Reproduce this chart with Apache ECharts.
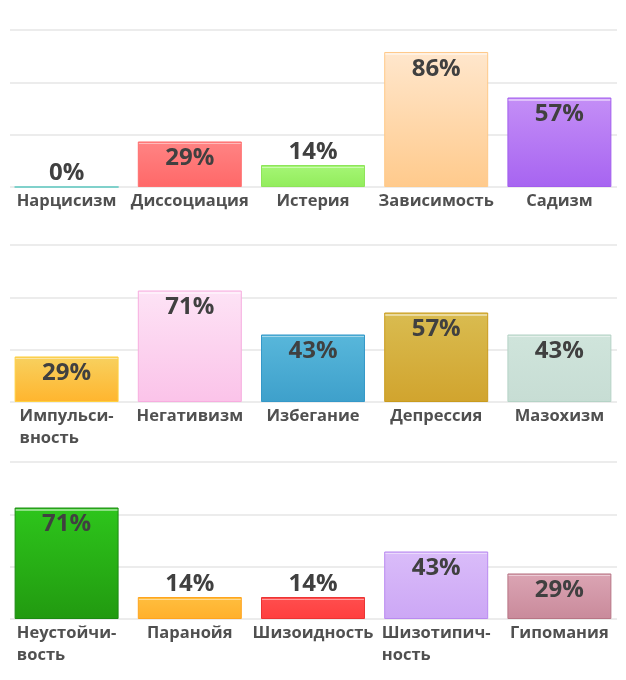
<!DOCTYPE html>
<html>
<head>
<meta charset="utf-8">
<script src="https://cdn.jsdelivr.net/npm/echarts@6/dist/echarts.min.js"></script>
<style>
  html, body { margin: 0; padding: 0; background: #fff; }
  #chart { width: 626px; height: 680px; }
</style>
</head>
<body>
<div id="chart"></div>
<script>
// данные
const categoriesRow1 = ['Нарцисизм', 'Диссоциация', 'Истерия', 'Зависимость', 'Садизм']
const valuesRow1 = [0, 29, 14, 86, 57]
const categoriesRow2 = ['Импульси-\nвность', 'Негативизм', 'Избегание', 'Депрессия', 'Мазохизм']
const valuesRow2 = [29, 71, 43, 57, 43]
const categoriesRow3 = ['Неустойчи-\nвость', 'Паранойя', 'Шизоидность', 'Шизотипич-\nность', 'Гипомания']
const valuesRow3 = [71, 14, 14, 43, 29]
const axisMax = 100

// цвета: верх, низ, рамка
const colorsRow1 = [
    ['#7fdcd6', '#66cfc8', '#5cc8c0'],
    ['#ff8282', '#ff6868', '#ff6e6e'],
    ['#a3f572', '#92ec5c', '#8ee45a'],
    ['#ffe6cb', '#ffca8c', '#ffc988'],
    ['#c38df6', '#a764f1', '#a25ded']
]
const colorsRow2 = [
    ['#f8cf5c', '#ffb52e', '#ffd040'],
    ['#fde2f5', '#fbc3e9', '#f7addf'],
    ['#57b6da', '#3ea0cb', '#3598c8'],
    ['#d9bb4f', '#d1a42e', '#c99b1d'],
    ['#cfe4db', '#c7ddd4', '#b5d3c6']
]
const colorsRow3 = [
    ['#2dc41b', '#229a10', '#1c8a12'],
    ['#ffbc3c', '#ffb02c', '#ffa41e'],
    ['#ff4c4c', '#ff3f3f', '#ea3434'],
    ['#d9bbf9', '#cca7f5', '#b98af0'],
    ['#daa3b2', '#c98a9b', '#b77585']
]

const rowTops = [30, 245, 462]
const rowHeight = 157
const font = 'Open Sans'

const lighten = (hex, k) => {
    const n = parseInt(hex.slice(1), 16)
    const ch = [n >> 16, (n >> 8) & 255, n & 255].map(c => Math.round(c + (255 - c) * k))
    return 'rgb(' + ch.join(',') + ')'
}

const barFill = (value, c) => {
    const h = value / axisMax * rowHeight
    if (h < 4) return c[1]
    const s1 = 1.5 / h, s2 = 3 / h
    return new echarts.graphic.LinearGradient(0, 0, 0, 1, [
        { offset: 0, color: c[0] },
        { offset: s1, color: c[0] },
        { offset: s1, color: lighten(c[0], 0.45) },
        { offset: s2, color: lighten(c[0], 0.45) },
        { offset: s2, color: c[0] },
        { offset: 1, color: c[1] }
    ])
}

const rows = [
    [categoriesRow1, valuesRow1, colorsRow1],
    [categoriesRow2, valuesRow2, colorsRow2],
    [categoriesRow3, valuesRow3, colorsRow3]
]

const grid = [], xAxis = [], yAxis = [], series = []

rows.forEach(([cats, vals, cols], i) => {
    // сетка для линий
    grid.push({ left: 10, right: 9, top: rowTops[i], height: rowHeight })
    // сетка для столбцов
    grid.push({ left: 5, right: 5, top: rowTops[i], height: rowHeight })

    xAxis.push({
        type: 'category', gridIndex: 2 * i, data: cats,
        show: false
    })
    yAxis.push({
        type: 'value', gridIndex: 2 * i, min: 0, max: axisMax, interval: axisMax / 3,
        axisLine: { show: false }, axisTick: { show: false }, axisLabel: { show: false },
        splitLine: { show: true, lineStyle: { color: '#e6e6e6', width: 1.5 } }
    })

    xAxis.push({
        type: 'category', gridIndex: 2 * i + 1, data: cats,
        axisLine: { show: false }, axisTick: { show: false },
        axisLabel: {
            interval: 0, margin: 3,
            formatter: v => v.split('\n').map(s => '{a|' + s + '}').join('\n'),
            rich: {
                a: {
                    fontFamily: font, fontWeight: 'bold', fontSize: 16.5,
                    color: '#505050', lineHeight: 22, align: 'left'
                }
            }
        }
    })
    yAxis.push({
        type: 'value', gridIndex: 2 * i + 1, min: 0, max: axisMax,
        show: false, splitLine: { show: false }
    })

    series.push({
        type: 'bar',
        xAxisIndex: 2 * i + 1,
        yAxisIndex: 2 * i + 1,
        barCategoryGap: '15.6%',
        data: vals.map((v, j) => ({
            value: v,
            itemStyle: { color: barFill(v, cols[j]), borderColor: cols[j][2], borderWidth: 1 },
            label: v >= 20
                ? { position: 'insideTop', distance: 5 }
                : { position: 'top', distance: 1 }
        })),
        label: {
            show: true, formatter: '{c}%',
            fontFamily: font, fontWeight: 'bold', fontSize: 24, color: '#404040'
        },
        emphasis: { disabled: true },
        animation: false
    })
})

const chart = echarts.init(document.getElementById('chart'))
chart.setOption({
    animation: false,
    grid, xAxis, yAxis, series
})
</script>
</body>
</html>
